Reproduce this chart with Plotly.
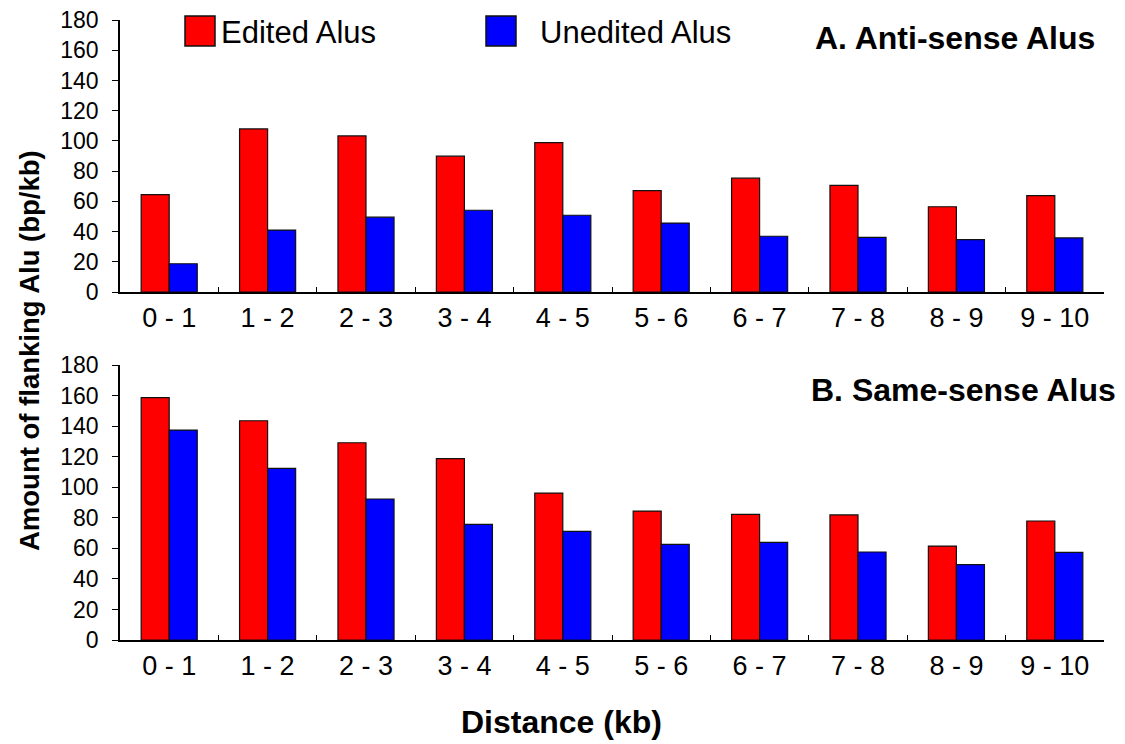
import plotly.graph_objects as go
from plotly.subplots import make_subplots

categories = ["0 - 1", "1 - 2", "2 - 3", "3 - 4", "4 - 5", "5 - 6", "6 - 7", "7 - 8", "8 - 9", "9 - 10"]
series_names = ["Edited Alus", "Unedited Alus"]
anti_edited = [64.5, 107.9, 103.3, 89.9, 98.8, 67.1, 75.3, 70.6, 56.4, 63.8]
anti_unedited = [18.7, 41.0, 49.5, 54.1, 50.8, 45.6, 36.9, 36.2, 34.7, 35.8]
same_edited = [158.6, 143.5, 129.1, 118.7, 96.2, 84.4, 82.2, 81.9, 61.5, 77.9]
same_unedited = [137.4, 112.3, 92.3, 75.7, 71.1, 62.6, 63.9, 57.6, 49.3, 57.4]
panel_titles = ["A. Anti-sense Alus", "B. Same-sense Alus"]
y_ticks = list(range(0, 181, 20))

RED = "#FF0000"
BLUE = "#0000FF"
FONT = "Liberation Sans, Arial, sans-serif"

fig = make_subplots(rows=2, cols=1)

for row, (ed, un) in enumerate([(anti_edited, anti_unedited), (same_edited, same_unedited)], start=1):
    fig.add_trace(go.Bar(x=categories, y=ed, name=series_names[0], marker=dict(color=RED, line=dict(color="#111111", width=1.2)),
                         showlegend=False), row=row, col=1)
    fig.add_trace(go.Bar(x=categories, y=un, name=series_names[1], marker=dict(color=BLUE, line=dict(color="#111111", width=1.2)),
                         showlegend=False), row=row, col=1)

# page body has an 8px margin: work in window pixels and shift by OFF
OFF = 8
W, H = 1125 - OFF, 744 - OFF
PL, PR, PT, PB = 120, 1104, 20, 640          # plot area in window pixels
L, R, T, B = PL - OFF, (W + OFF) - PR, PT - OFF, (H + OFF) - PB
pw = PR - PL
ph = PB - PT

def px(x):
    return (x - PL) / pw

def py(y):
    return (PB - y) / ph

top_dom = [py(292), 1.0]
bot_dom = [0.0, py(365)]

xaxis_common = dict(type="category", showline=True, linecolor="black", linewidth=1.5, automargin=False,
                    ticks="inside", tickson="boundaries", ticklen=5, tickcolor="black", tickwidth=1,
                    showgrid=False, zeroline=False, tickfont=dict(family=FONT, size=27, color="black"),
                    ticklabelstandoff=1, range=[-0.5, 9.5])
yaxis_common = dict(range=[0, 180], tickvals=y_ticks, showline=True, linecolor="black", linewidth=1.5,
                    automargin=False, ticks="outside", ticklen=6, tickcolor="black", tickwidth=1,
                    showgrid=False, zeroline=False, ticklabeloverflow="allow",
                    tickfont=dict(family=FONT, size=23, color="black"), ticklabelstandoff=9)

fig.update_layout(
    width=W, height=H,
    margin=dict(l=L, r=R, t=T, b=B, autoexpand=False),
    paper_bgcolor="white", plot_bgcolor="white",
    barmode="group", bargap=0.43, bargroupgap=0,
    font=dict(family=FONT, color="black"),
    xaxis=dict(domain=[0, 1], anchor="y", **xaxis_common),
    yaxis=dict(domain=top_dom, anchor="x", **yaxis_common),
    xaxis2=dict(domain=[0, 1], anchor="y2", **xaxis_common),
    yaxis2=dict(domain=bot_dom, anchor="x2", **yaxis_common),
)

# legend drawn manually (large square swatches)
legend_items = [
    (series_names[0], RED, 185, 215, 219),
    (series_names[1], BLUE, 486, 516, 538),
]
for name, col, x0, x1, tx in legend_items:
    fig.add_shape(type="rect", xref="paper", yref="paper", x0=px(x0), x1=px(x1), y0=py(46), y1=py(16),
                  fillcolor=col, line=dict(color="#111111", width=1.5))
    fig.add_annotation(text=name, xref="paper", yref="paper", x=px(tx), y=py(32), xanchor="left", yanchor="middle",
                       showarrow=False, font=dict(family=FONT, size=31, color="black"))

fig.add_annotation(text="<b>%s</b>" % panel_titles[0], xref="paper", yref="paper", x=px(1097), y=py(38),
                   xanchor="right", yanchor="middle", showarrow=False, font=dict(family=FONT, size=32, color="black"))
fig.add_annotation(text="<b>%s</b>" % panel_titles[1], xref="paper", yref="paper", x=px(1118), y=py(390),
                   xanchor="right", yanchor="middle", showarrow=False, font=dict(family=FONT, size=32, color="black"))

fig.add_annotation(text="<b>Amount of flanking Alu (bp/kb)</b>", xref="paper", yref="paper", x=px(29), y=py(351),
                   xanchor="center", yanchor="middle", textangle=-90, showarrow=False,
                   font=dict(family=FONT, size=27.5, color="black"))
fig.add_annotation(text="<b>Distance (kb)</b>", xref="paper", yref="paper", x=px(561), y=py(722),
                   xanchor="center", yanchor="middle", showarrow=False,
                   font=dict(family=FONT, size=32, color="black"))

fig.write_html("out.html")
